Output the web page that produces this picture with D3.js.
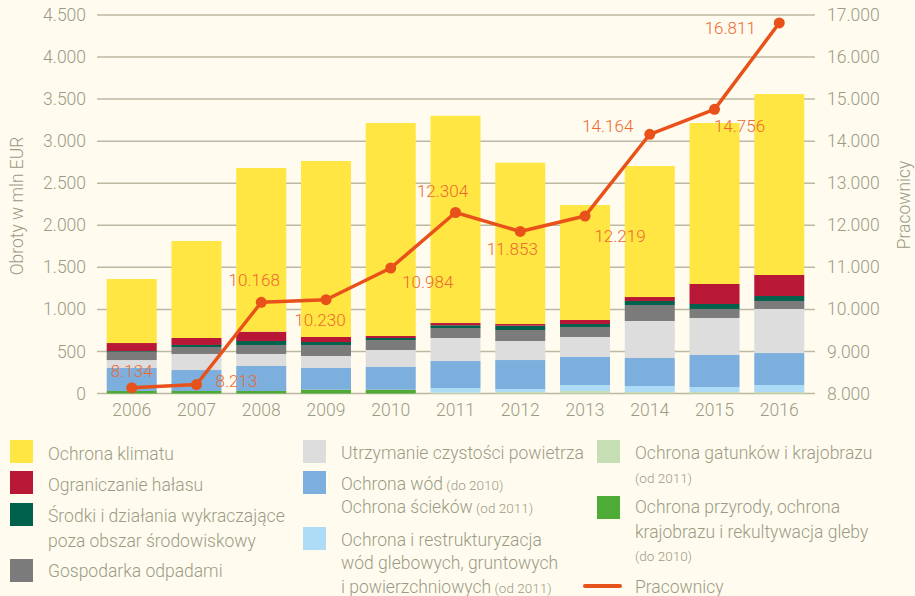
<!DOCTYPE html>
<html>
<head>
<meta charset="utf-8">
<script src="https://cdn.jsdelivr.net/npm/d3@7"></script>
<style>
  html, body { margin: 0; padding: 0; background: #fffcef; }
  svg { display: block; font-family: Roboto, "Noto Sans", sans-serif; font-weight: 300; }
</style>
</head>
<body>
<svg id="chart" width="915" height="596"></svg>
<script>
// ---- data ----
const years = ["2006","2007","2008","2009","2010","2011","2012","2013","2014","2015","2016"];
const przyroda  = [30, 30, 30, 45, 45, 0, 0, 0, 0, 0, 0];
const gatunki   = [0, 0, 0, 0, 0, 10, 18, 30, 18, 18, 18];
const restrukt  = [0, 0, 0, 0, 0, 55, 35, 71, 71, 59, 83];
const wody      = [273, 249, 297, 258, 270, 321, 345, 333, 333, 381, 380];
const powietrze = [95, 191, 143, 143, 202, 274, 226, 238, 440, 440, 524];
const odpady    = [99, 83, 107, 131, 119, 119, 131, 119, 190, 107, 95];
const srodki    = [8, 24, 47, 35, 24, 32, 51, 35, 48, 59, 59];
const halas     = [95, 83, 111, 60, 24, 27, 20, 48, 47, 238, 250];
const klimat    = [761, 1153, 1946, 2092, 2532, 2464, 1918, 1367, 1557, 1914, 2151];
const pracownicy = [8134, 8213, 10168, 10230, 10984, 12304, 11853, 12219, 14164, 14756, 16811];
const leftTicks = [0, 500, 1000, 1500, 2000, 2500, 3000, 3500, 4000, 4500];
const rightTicks = [8000, 9000, 10000, 11000, 12000, 13000, 14000, 15000, 16000, 17000];

// ---- styling ----
const seriesKeys = ["przyroda","gatunki","restrukt","wody","powietrze","odpady","srodki","halas","klimat"];
const seriesData = {przyroda, gatunki, restrukt, wody, powietrze, odpady, srodki, halas, klimat};
const colors = {
  klimat: "#ffe642", halas: "#b81835", srodki: "#00614c", odpady: "#7b7b7b",
  powietrze: "#dddddd", wody: "#7cafdd", restrukt: "#aedcf6", gatunki: "#c6deb3", przyroda: "#4eab36"
};
const lineColor = "#e8521a";
const labelColor = "#ec6a32";
const textColor = "#9b9b84";
const gridColor = "#bcb9a2";
// label offsets relative to the point (dx, dy of baseline)
const labelOffsets = [[0,-11],[40,2],[-7,-16],[-6,26],[37,20],[-13,-15],[-8,24],[35,26],[-42,-2],[25,23],[-49,11]];

const locale = d3.formatLocale({decimal: ",", thousands: ".", grouping: [3], currency: ["", ""]});
const fmt = locale.format(",");

const svg = d3.select("#chart");
const x0 = 97, x1 = 815, yBase = 393.5, yTop = 15;

const x = d3.scaleBand().domain(years).range([x0, 814]).paddingInner(0.2276).paddingOuter(0.15);
const yL = d3.scaleLinear().domain([0, 4500]).range([yBase, yTop]);
const yR = d3.scaleLinear().domain([8000, 17000]).range([yBase, yTop]);

// gridlines (also act as ticks)
svg.append("g").selectAll("line").data(leftTicks).join("line")
  .attr("x1", x0).attr("x2", x1)
  .attr("y1", d => yL(d)).attr("y2", d => yL(d))
  .attr("stroke", gridColor).attr("stroke-width", 1.5);

// left axis labels
const leftAxis = d3.axisLeft(yL).tickValues(leftTicks).tickFormat(fmt).tickSize(0).tickPadding(0);
const gL = svg.append("g").attr("transform", "translate(86,0)").call(leftAxis);
gL.select(".domain").remove();
gL.selectAll("text").attr("fill", textColor).attr("font-size", 17.5).attr("font-family", "Roboto");

const rightAxis = d3.axisRight(yR).tickValues(rightTicks).tickFormat(fmt).tickSize(0).tickPadding(0);
const gR = svg.append("g").attr("transform", "translate(827,0)").call(rightAxis);
gR.select(".domain").remove();
gR.selectAll("text").attr("fill", textColor).attr("font-size", 17.5).attr("font-family", "Roboto");

const bottomAxis = d3.axisBottom(x).tickSize(0).tickPadding(0);
const gB = svg.append("g").attr("transform", "translate(0,404)").call(bottomAxis);
gB.select(".domain").remove();
gB.selectAll("text").attr("fill", textColor).attr("font-size", 17.5).attr("font-family", "Roboto").attr("dy", "0.71em");

// axis titles
svg.append("text").attr("transform", "translate(23,206) rotate(-90)")
  .attr("text-anchor", "middle").attr("fill", textColor).attr("font-size", 17.5)
  .text("Obroty w mln EUR");
svg.append("text").attr("transform", "translate(910,205) rotate(-90)")
  .attr("text-anchor", "middle").attr("fill", textColor).attr("font-size", 17.5)
  .text("Pracownicy");

// stacked bars
const table = years.map((yr, i) => {
  const row = {year: yr};
  seriesKeys.forEach(k => row[k] = seriesData[k][i]);
  return row;
});
const stacked = d3.stack().keys(seriesKeys)(table);
svg.append("g").selectAll("g").data(stacked).join("g")
  .attr("fill", d => colors[d.key])
  .selectAll("rect").data(d => d).join("rect")
  .attr("x", d => x(d.data.year))
  .attr("width", x.bandwidth())
  .attr("y", d => yL(d[1]))
  .attr("height", d => Math.max(0, yL(d[0]) - yL(d[1])));

// line
const pts = years.map((yr, i) => ({year: yr, v: pracownicy[i], i}));
const line = d3.line().x(d => x(d.year) + x.bandwidth() / 2).y(d => yR(d.v));
svg.append("path").datum(pts).attr("d", line)
  .attr("fill", "none").attr("stroke", lineColor).attr("stroke-width", 3.5).attr("stroke-linejoin", "round");
svg.append("g").selectAll("circle").data(pts).join("circle")
  .attr("cx", d => x(d.year) + x.bandwidth() / 2).attr("cy", d => yR(d.v)).attr("r", 5.5)
  .attr("fill", lineColor);
svg.append("g").selectAll("text").data(pts).join("text")
  .attr("x", d => x(d.year) + x.bandwidth() / 2 + labelOffsets[d.i][0])
  .attr("y", d => yR(d.v) + labelOffsets[d.i][1])
  .attr("text-anchor", "middle").attr("fill", labelColor).attr("font-size", 17)
  .text(d => fmt(d.v));

// legend
const legendItems = [
  {key: "klimat", sx: 10, sy: 440, tx: 48, lines: [[460, "Ochrona klimatu", ""]]},
  {key: "halas", sx: 10, sy: 471, tx: 48, lines: [[491, "Ograniczanie hałasu", ""]]},
  {key: "srodki", sx: 10, sy: 503, tx: 48, lines: [[522, "Środki i działania wykraczające", ""], [547, "poza obszar środowiskowy", ""]]},
  {key: "odpady", sx: 10, sy: 559, tx: 48, lines: [[577, "Gospodarka odpadami", ""]]},
  {key: "powietrze", sx: 303, sy: 440, tx: 341, lines: [[459, "Utrzymanie czystości powietrza", ""]]},
  {key: "wody", sx: 303, sy: 471, tx: 341, lines: [[490, "Ochrona wód", " (do 2010)"], [513, "Ochrona ścieków", " (od 2011)"]]},
  {key: "restrukt", sx: 303, sy: 527, tx: 341, lines: [[546, "Ochrona i restrukturyzacja", ""], [569, "wód glebowych, gruntowych", ""], [593, "i powierzchniowych", " (od 2011)"]]},
  {key: "gatunki", sx: 597, sy: 440, tx: 635, lines: [[459, "Ochrona gatunków i krajobrazu", ""], [483, "", "(od 2011)"]]},
  {key: "przyroda", sx: 597, sy: 496, tx: 635, lines: [[513, "Ochrona przyrody, ochrona", ""], [538, "krajobrazu i rekultywacja gleby", ""], [561, "", "(do 2010)"]]}
];
const lg = svg.append("g");
legendItems.forEach(it => {
  lg.append("rect").attr("x", it.sx).attr("y", it.sy).attr("width", 23).attr("height", 23).attr("fill", colors[it.key]);
  it.lines.forEach(([yy, main, small]) => {
    const t = lg.append("text").attr("x", it.tx).attr("y", yy).attr("fill", textColor)
      .attr("font-size", 17.5);
    if (main) t.append("tspan").text(main);
    if (small) t.append("tspan").attr("font-size", 13.5).text(small);
  });
});
lg.append("line").attr("x1", 585).attr("x2", 620).attr("y1", 586).attr("y2", 586)
  .attr("stroke", lineColor).attr("stroke-width", 4).attr("stroke-linecap", "round");
lg.append("text").attr("x", 635).attr("y", 593).attr("fill", textColor).attr("font-size", 17.5)
  .text("Pracownicy");
</script>
</body>
</html>
